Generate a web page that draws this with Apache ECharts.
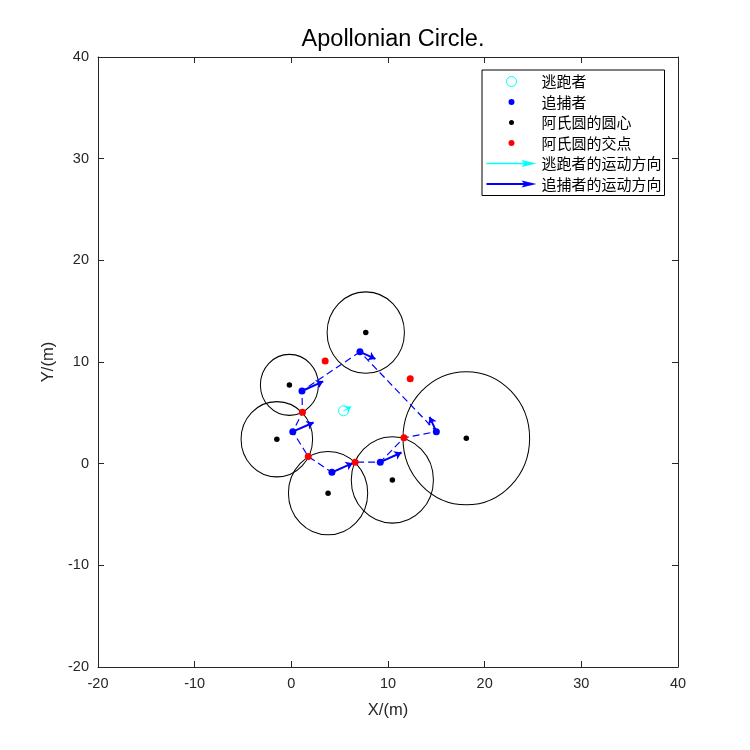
<!DOCTYPE html>
<html>
<head>
<meta charset="utf-8">
<script src="https://cdn.jsdelivr.net/npm/echarts@6/dist/echarts.min.js"></script>
<style>
html, body {margin: 0; padding: 0; background: #fff;}
#chart {width: 750px; height: 750px;}
</style>
</head>
<body>
<div id="chart"></div>
<script>
// 追捕者位置
var pursuers = [[7.1, 11.0], [1.1, 7.15], [0.15, 3.15], [4.2, -0.85], [9.2, 0.15], [15.0, 3.15]];
// 追捕者运动方向 (箭头终点)
var pursuerTips = [[8.7, 10.3], [3.3, 8.1], [2.3, 4.05], [6.35, 0.05], [11.4, 1.1], [14.3, 4.6]];
// 阿氏圆圆心 / 半径
var centers = [[7.7, 12.9], [-0.2, 7.75], [-1.5, 2.4], [3.8, -2.9], [10.45, -1.6], [18.1, 2.5]];
var radii = [4.0, 3.0, 3.7, 4.1, 4.25, 6.55];
// 阿氏圆的交点
var crossPoints = [[3.5, 10.1], [12.3, 8.35], [1.15, 5.05], [1.75, 0.7], [6.6, 0.15], [11.65, 2.55]];
// 逃跑者
var evader = [5.4, 5.2];
var evaderTip = [6.2, 5.6];
// 虚线连接顺序
var dashPath = [pursuers[0], pursuers[1], crossPoints[2], pursuers[2], crossPoints[3],
    pursuers[3], crossPoints[4], pursuers[4], crossPoints[5], pursuers[5], pursuers[0]];
var axisMin = -20, axisMax = 40, axisStep = 10;

var AX = '#262626';
var FONT = 'Liberation Sans, Arial, sans-serif';

function valueAxis(pos, showLabel, name, nameGap) {
    return {
        type: 'value',
        position: pos,
        min: axisMin,
        max: axisMax,
        interval: axisStep,
        name: name,
        nameLocation: 'middle',
        nameGap: nameGap,
        nameTextStyle: {color: AX, fontSize: 16.5, fontFamily: FONT},
        axisLine: {show: true, onZero: false, lineStyle: {color: AX, width: 1}},
        axisTick: {show: true, inside: true, length: 6, lineStyle: {color: AX}},
        axisLabel: {show: showLabel, color: AX, fontSize: 14.5, fontFamily: FONT, margin: 9},
        splitLine: {show: false}
    }
}

var circleData = centers.map(function (c, i) { return [c[0], c[1], radii[i]]; });
var pursuerArrows = pursuers.map(function (p, i) { return {coords: [p, pursuerTips[i]]}; });

var chart = echarts.init(document.getElementById('chart'));
chart.setOption({
    backgroundColor: '#fff',
    animation: false,
    title: {
        text: 'Apollonian Circle.',
        left: 388,
        textAlign: 'center',
        top: 23,
        textStyle: {color: '#000', fontSize: 23.5, fontWeight: 'normal', fontFamily: FONT}
    },
    grid: {left: 98, right: 72, top: 57, bottom: 83},
    xAxis: [valueAxis('bottom', true, 'X/(m)', 35), valueAxis('top', false, '', 0)],
    yAxis: [valueAxis('left', true, 'Y/(m)', 35), valueAxis('right', false, '', 0)],
    legend: {
        orient: 'vertical',
        left: 482,
        top: 70,
        itemWidth: 50,
        itemHeight: 12,
        itemGap: 5.5,
        padding: [4, 3, 4, 4],
        borderColor: '#000',
        borderWidth: 1,
        backgroundColor: '#fff',
        selectedMode: false,
        textStyle: {color: '#000', fontSize: 15, lineHeight: 15, fontFamily: 'Noto Sans CJK SC'},
        data: [
            {name: '逃跑者', icon: 'path://M0,0 M50,12 M30,6 A5,5 0 1 1 20,6 A5,5 0 1 1 30,6 Z',
                itemStyle: {color: 'rgba(0,0,0,0)', borderColor: '#00ffff', borderWidth: 1}},
            {name: '追捕者', icon: 'path://M0,0 M50,12 M28,6 A3,3 0 1 1 22,6 A3,3 0 1 1 28,6 Z',
                itemStyle: {color: '#0000ff', borderWidth: 0}},
            {name: '阿氏圆的圆心', icon: 'path://M0,0 M50,12 M27.5,6 A2.5,2.5 0 1 1 22.5,6 A2.5,2.5 0 1 1 27.5,6 Z',
                itemStyle: {color: '#000', borderWidth: 0}},
            {name: '阿氏圆的交点', icon: 'path://M0,0 M50,12 M28,6 A3,3 0 1 1 22,6 A3,3 0 1 1 28,6 Z',
                itemStyle: {color: '#ff0000', borderWidth: 0}},
            {name: '逃跑者的运动方向', icon: 'path://M0,0 M50,12 M0,5.2 L42,5.2 L42,6.8 L0,6.8 Z M35,2.5 L50,6 L35,9.5 L38,6 Z',
                itemStyle: {color: '#00ffff', borderWidth: 0}},
            {name: '追捕者的运动方向', icon: 'path://M0,0 M50,12 M0,5 L42,5 L42,7 L0,7 Z M35,2.5 L50,6 L35,9.5 L38,6 Z',
                itemStyle: {color: '#0000ff', borderWidth: 0}}
        ]
    },
    series: [
        {
            name: 'circles',
            type: 'custom',
            z: 1,
            encode: {x: 0, y: 1},
            data: circleData,
            renderItem: function (params, api) {
                var c = api.coord([api.value(0), api.value(1)]);
                var s = api.size([api.value(2), api.value(2)]);
                return {
                    type: 'circle',
                    x: c[0],
                    y: c[1],
                    scaleY: s[1] / s[0],
                    shape: {cx: 0, cy: 0, r: s[0]},
                    style: {fill: 'none', stroke: '#000', lineWidth: 1, strokeNoScale: true}
                };
            }
        },
        {
            name: 'path',
            type: 'line',
            z: 2,
            data: dashPath,
            symbol: 'none',
            lineStyle: {color: '#0000ff', width: 1.2, type: [7, 4]}
        },
        {
            name: '追捕者的运动方向',
            type: 'lines',
            coordinateSystem: 'cartesian2d',
            z: 3,
            symbol: ['none', 'arrow'],
            symbolSize: 7,
            lineStyle: {color: '#0000ff', width: 2, opacity: 1},
            itemStyle: {color: '#0000ff'},
            data: pursuerArrows
        },
        {
            name: '逃跑者的运动方向',
            type: 'lines',
            coordinateSystem: 'cartesian2d',
            z: 3,
            symbol: ['none', 'arrow'],
            symbolSize: 6,
            lineStyle: {color: '#00ffff', width: 1, opacity: 1},
            itemStyle: {color: '#00ffff'},
            data: [{coords: [evader, evaderTip]}]
        },
        {
            name: '逃跑者',
            type: 'scatter',
            z: 4,
            symbol: 'circle',
            symbolSize: 10,
            itemStyle: {color: 'rgba(0,0,0,0)', borderColor: '#00ffff', borderWidth: 1, opacity: 1},
            data: [evader]
        },
        {
            name: '追捕者',
            type: 'scatter',
            z: 5,
            symbolSize: 7,
            itemStyle: {color: '#0000ff', opacity: 1},
            data: pursuers
        },
        {
            name: '阿氏圆的圆心',
            type: 'scatter',
            z: 5,
            symbolSize: 5.5,
            itemStyle: {color: '#000', opacity: 1},
            data: centers
        },
        {
            name: '阿氏圆的交点',
            type: 'scatter',
            z: 6,
            symbolSize: 7,
            itemStyle: {color: '#ff0000', opacity: 1},
            data: crossPoints
        }
    ]
});
</script>
</body>
</html>
